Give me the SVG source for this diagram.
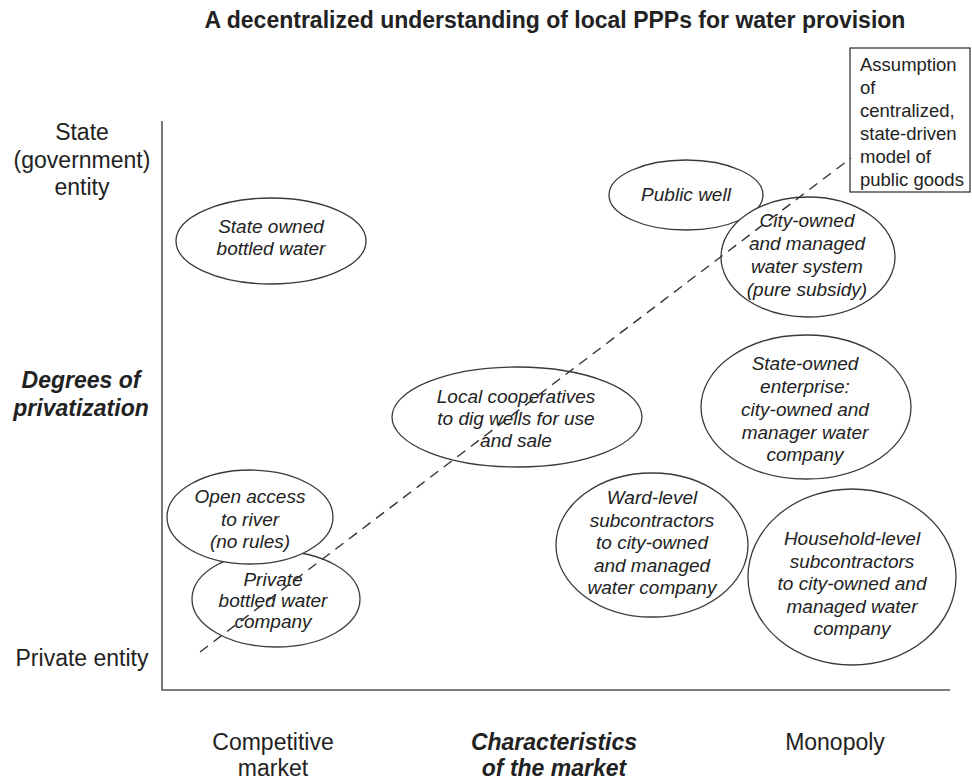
<svg xmlns="http://www.w3.org/2000/svg" width="972" height="780" viewBox="0 0 972 780">
  <style>
    text { font-family: "Liberation Sans", Arial, Helvetica, sans-serif; fill: #222; }
    .title { font-size: 23px; font-weight: bold; text-anchor: middle; }
    .axis { font-size: 23px; text-anchor: middle; }
    .axis-bi { font-size: 23px; font-weight: bold; font-style: italic; text-anchor: middle; }
    .node ellipse { fill: #fff; stroke: #3a3a3a; stroke-width: 1.3; }
    .node text { font-size: 19px; font-style: italic; text-anchor: middle; }
    .note rect { fill: #fff; stroke: #3a3a3a; stroke-width: 1.3; }
    .note text { font-size: 18.5px; }
    .axis-line { stroke: #555; stroke-width: 1.6; fill: none; }
    .dash { stroke: #333; stroke-width: 1.4; stroke-dasharray: 10 7; fill: none; }
  </style>

  <rect width="972" height="780" fill="#fff"/>

  <text class="title" x="555" y="28">A decentralized understanding of local PPPs for water provision</text>

  <!-- axes -->
  <g id="axes">
    <path class="axis-line" d="M162 121 V690 H950"/>
  </g>

  <!-- vertical axis labels -->
  <g id="y-labels">
    <text class="axis" x="82" y="140">State</text>
    <text class="axis" x="82" y="168">(government)</text>
    <text class="axis" x="82" y="195">entity</text>
    <text class="axis-bi" x="81" y="388">Degrees of</text>
    <text class="axis-bi" x="81" y="416">privatization</text>
    <text class="axis" x="82" y="666">Private entity</text>
  </g>

  <!-- horizontal axis labels -->
  <g id="x-labels">
    <text class="axis" x="273" y="750">Competitive</text>
    <text class="axis" x="273" y="776">market</text>
    <text class="axis-bi" x="554" y="750">Characteristics</text>
    <text class="axis-bi" x="554" y="776">of the market</text>
    <text class="axis" x="835" y="750">Monopoly</text>
  </g>

  <!-- ownership / market cases -->
  <g id="state-bottled" class="node">
    <ellipse cx="271" cy="241" rx="95" ry="43"/>
    <text x="271" y="233">State owned</text>
    <text x="271" y="255">bottled water</text>
  </g>

  <g id="public-well" class="node">
    <ellipse cx="686" cy="195" rx="77" ry="35"/>
    <text x="686" y="201">Public well</text>
  </g>

  <g id="city-system" class="node">
    <ellipse cx="808" cy="257" rx="87" ry="60"/>
    <text x="807" y="227">City-owned</text>
    <text x="807" y="250">and managed</text>
    <text x="807" y="273">water system</text>
    <text x="807" y="296">(pure subsidy)</text>
  </g>

  <g id="local-coops" class="node">
    <ellipse cx="517" cy="417" rx="125" ry="50"/>
    <text x="516" y="403">Local cooperatives</text>
    <text x="516" y="425">to dig wells for use</text>
    <text x="516" y="447">and sale</text>
  </g>

  <g id="state-enterprise" class="node">
    <ellipse cx="806" cy="407" rx="105" ry="72"/>
    <text x="805" y="370">State-owned</text>
    <text x="805" y="393">enterprise:</text>
    <text x="805" y="416">city-owned and</text>
    <text x="805" y="439">manager water</text>
    <text x="805" y="461">company</text>
  </g>

  <g id="ward-subcontractors" class="node">
    <ellipse cx="652" cy="545" rx="96" ry="72"/>
    <text x="652" y="504">Ward-level</text>
    <text x="652" y="526.5">subcontractors</text>
    <text x="652" y="549">to city-owned</text>
    <text x="652" y="571.5">and managed</text>
    <text x="652" y="594">water company</text>
  </g>

  <g id="household-subcontractors" class="node">
    <ellipse cx="852" cy="577" rx="104" ry="88"/>
    <text x="852" y="545">Household-level</text>
    <text x="852" y="567.5">subcontractors</text>
    <text x="852" y="590">to city-owned and</text>
    <text x="852" y="612.5">managed water</text>
    <text x="852" y="635">company</text>
  </g>

  <g id="private-bottled" class="node">
    <ellipse cx="276" cy="599" rx="84" ry="48"/>
    <text x="273" y="586">Private</text>
    <text x="273" y="607">bottled water</text>
    <text x="273" y="628">company</text>
  </g>

  <g id="open-access" class="node">
    <ellipse cx="250" cy="517" rx="83" ry="47"/>
    <text x="250" y="503">Open access</text>
    <text x="250" y="525.5">to river</text>
    <text x="250" y="548">(no rules)</text>
  </g>

  <g id="assumption" class="note">
    <rect x="850" y="48" width="120" height="144"/>
    <text x="860" y="71">Assumption</text>
    <text x="860" y="94">of</text>
    <text x="860" y="117">centralized,</text>
    <text x="860" y="140">state-driven</text>
    <text x="860" y="163">model of</text>
    <text x="860" y="186">public goods</text>
  </g>

  <!-- connectors -->
  <g id="connectors">
    <line class="dash" x1="200" y1="652" x2="851" y2="158"/>
  </g>
</svg>
